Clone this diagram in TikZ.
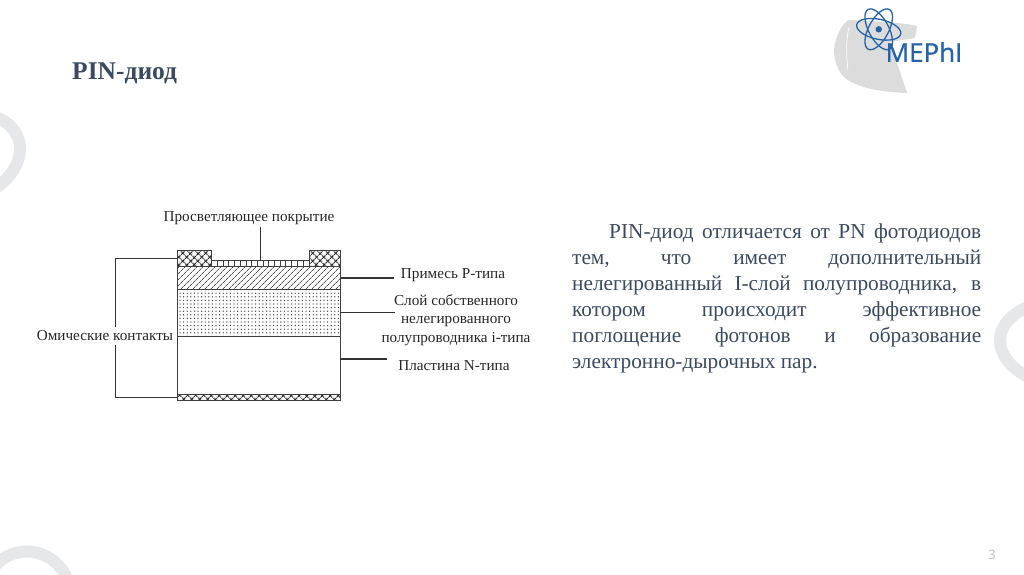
\documentclass[tikz,border=0pt]{standalone}
\usepackage{fontspec}
\setmainfont{Liberation Serif}
\newfontfamily\logofont[FakeBold=0.7]{Open Sans}
\newfontfamily\pagefont{Open Sans}
\usetikzlibrary{patterns.meta}
\definecolor{slideink}{HTML}{3B4A5E}
\definecolor{ringgray}{HTML}{E6E7E8}
\definecolor{globegray}{HTML}{DCDCDC}
\definecolor{logoblue}{HTML}{2463A8}
\begin{document}
\begin{tikzpicture}[x=1pt,y=-1pt]
  \tikzstyle{layer}=[draw=black!75,line width=1pt,rectangle,inner sep=0pt,outer sep=0pt,anchor=north west]
  \tikzstyle{hatched}=[pattern={Lines[angle=45,distance=4pt,line width=.7pt]},pattern color=black!70]
  \tikzstyle{dotted fill}=[pattern={Dots[distance=3.6pt,radius=.7pt]},pattern color=black!75]
  \tikzstyle{contact}=[pattern={Hatch[angle=45,distance=5.4pt,line width=1.1pt]},pattern color=black!85]
  \tikzstyle{plain}=[fill=white]
  \tikzstyle{lead}=[draw=black!80,line width=1.6pt]
  \tikzstyle{caption}=[font=\fontsize{15.2}{17}\selectfont,text=black!85,inner sep=1pt]
  \useasboundingbox (0,0) rectangle (1024,574);

  % background rings
  \draw[ringgray,line width=12pt] (-4,117) .. controls (28,130) and (28,165) .. (-4,188);
  \draw[ringgray,line width=12pt] (-4,565) .. controls (14,545) and (52,545) .. (68,580);
  \draw[ringgray,line width=12pt] (1030,306) .. controls (990,322) and (990,358) .. (1030,378);

  % logo
  \fill[globegray] (848,20) .. controls (870,21) and (900,22) .. (917,26) -- (915,38) -- (890,42) -- (907,93)
    .. controls (880,92) and (858,88) .. (845,78) .. controls (834,68) and (832,50) .. (836,40) .. controls (838,32) and (842,25) .. (848,20) -- cycle;
  \draw[white,line width=.7pt] (849,27) .. controls (846,40) and (846,55) .. (848,70);
  \foreach \tilt in {-12,62,118}
    \draw[logoblue,line width=1.3pt,rotate around={\tilt:(878.7,29.3)}] (878.7,29.3) ellipse (22.5pt and 10pt);
  \fill[logoblue] (878.7,29.3) circle (3.2pt);
  \node[text=logoblue,inner sep=0pt] (logo) at (924,52) {\logofont\fontsize{26}{26}\selectfont MEPhI};

  \node[anchor=west,inner sep=0pt,text=slideink,font=\fontsize{25.5}{28}\selectfont\bfseries] (title) at (72,73) {PIN-диод};

  % layers of the diode
  \foreach \name/\top/\high/\look in {p/266/23.3/hatched, i/289.3/46.7/dotted fill, n/336/58/plain, back/394/6/contact}
    \node[layer,\look,minimum width=162.5pt,minimum height=\high pt] (layer-\name) at (177.5,\top) {};
  \node[layer,plain,minimum width=97.6pt,minimum height=5.3pt] (coat) at (211.7,260.7) {};
  \foreach \x in {217.4,223.1,...,306}
    \draw[black!75,line width=.7pt] (\x,260.7) -- (\x,266);
  \foreach \name/\left/\wide in {l/177.5/34.2, r/309.3/30.7}
    \node[layer,contact,minimum width=\wide pt,minimum height=16pt] (contact-\name) at (\left,250) {};

  % captions
  \node[caption] (label-coat) at (249,218) {Просветляющее покрытие};
  \node[caption] (label-p) at (453,275) {Примесь P-типа};
  \node[caption,align=center,font=\fontsize{15.2}{18.8}\selectfont] (label-i) at (456,320) {Слой собственного\\нелегированного\\полупроводника i-типа};
  \node[caption] (label-n) at (454,366) {Пластина N-типа};
  \node[caption,inner sep=0pt,minimum height=17pt] (label-ohm) at (105,336) {Омические контакты};

  \coordinate (end-coat) at (260.5,226.7);
  \coordinate (end-p) at (394,277.7);
  \coordinate (end-i) at (395,312.3);
  \coordinate (end-n) at (386.7,359);
  \coordinate (corner-top) at (115.3,258.3);
  \coordinate (corner-bottom) at (115.3,397.3);

  \draw[lead] (end-coat) -- (coat.north);
  \foreach \name in {p,i,n}
    { \draw[lead] (layer-\name.east |- end-\name) -- (end-\name); }
  \draw[lead] (contact-l.west |- corner-top) -- (corner-top) -- (corner-top |- label-ohm.north);
  \draw[lead] (layer-back.west |- corner-bottom) -- (corner-bottom) -- (corner-bottom |- label-ohm.south);

  \node[anchor=north west,inner sep=0pt,text width=409pt,align=justify,text=slideink,font=\fontsize{21.3}{26}\selectfont] (body) at (572,223.5)
    {\hspace*{37pt}PIN-диод отличается от PN фотодиодов\linebreak
     тем, что имеет дополнительный\linebreak
     нелегированный I-слой полупроводника, в\linebreak
     котором происходит эффективное\linebreak
     поглощение фотонов и образование\linebreak
     электронно-дырочных пар.};

  \node[text=black!25,inner sep=0pt,font=\pagefont\fontsize{13}{15}\selectfont] (page) at (992,555) {3};
\end{tikzpicture}
\end{document}
